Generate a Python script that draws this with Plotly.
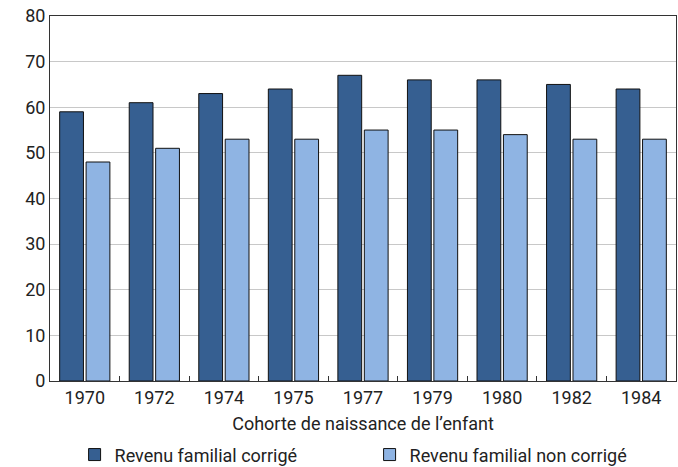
import plotly.graph_objects as go

categories = ["1970", "1972", "1974", "1975", "1977", "1979", "1980", "1982", "1984"]
corrige = [59, 61, 63, 64, 67, 66, 66, 65, 64]
non_corrige = [48, 51, 53, 53, 55, 55, 54, 53, 53]
series_names = ["Revenu familial corrigé", "Revenu familial non corrigé"]
x_title = "Cohorte de naissance de l’enfant"

FONT = "Roboto, Liberation Sans, sans-serif"
TXT = "#222222"

fig = go.Figure()
fig.add_trace(go.Bar(x=categories, y=corrige, name=series_names[0],
                     marker=dict(color="#365f91", line=dict(color="#111111", width=1))))
fig.add_trace(go.Bar(x=categories, y=non_corrige, name=series_names[1],
                     marker=dict(color="#8fb4e3", line=dict(color="#111111", width=1))))

fig.update_layout(
    width=678, height=467,
    margin=dict(l=50, r=2, t=16, b=86, autoexpand=False),
    paper_bgcolor="white", plot_bgcolor="white",
    font=dict(family=FONT, size=18, color=TXT),
    barmode="group", bargap=0.24, bargroupgap=0.1,
    showlegend=True,
    legend=dict(orientation="h", xref="container", yref="container",
                x=0.11, xanchor="left", y=0.026, yanchor="middle",
                entrywidth=250, entrywidthmode="pixels",
                font=dict(family=FONT, size=18, color=TXT), itemwidth=30,
                bgcolor="rgba(0,0,0,0)"),
)
fig.update_xaxes(
    type="category", showline=True, linecolor="#333333", linewidth=1, mirror=True,
    ticks="inside", tickson="boundaries", ticklen=5, tickcolor="#333333",
    showgrid=False, automargin=False,
    title=dict(text=x_title, font=dict(family=FONT, size=18, color=TXT), standoff=10),
)
fig.update_yaxes(
    range=[0, 80], dtick=10, showline=True, linecolor="#333333", linewidth=1, mirror=True,
    showgrid=True, gridcolor="#c8c8c8", gridwidth=1, ticks="", zeroline=False,
    automargin=False, tickfont=dict(family=FONT, size=18, color=TXT),
)

# remove the browser's default 8px body margin so the figure fills the window
fig.write_html("out.html", config={"displayModeBar": False},
               post_script="document.body.style.margin='0';")
